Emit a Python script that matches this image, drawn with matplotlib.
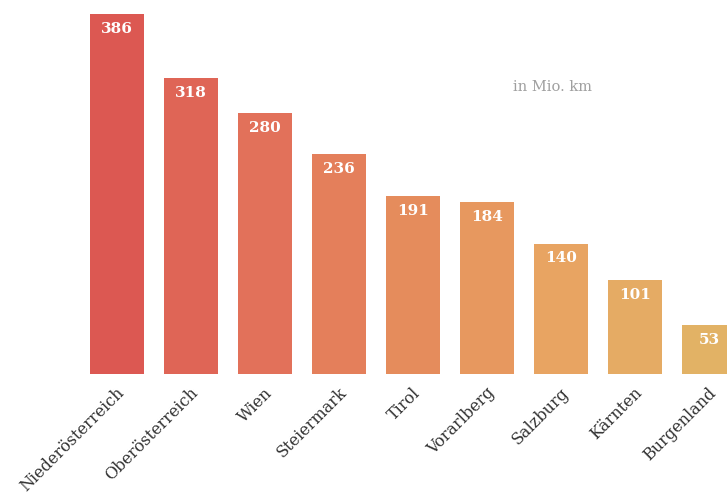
import matplotlib
matplotlib.use("Agg")
import matplotlib.pyplot as plt
import matplotlib.transforms as mtransforms
from matplotlib.colors import LinearSegmentedColormap
import numpy as np

# Fahrleistung nach Bundesland, in Mio. km
regions = ["Niederösterreich", "Oberösterreich", "Wien", "Steiermark", "Tirol",
           "Vorarlberg", "Salzburg", "Kärnten", "Burgenland"]
values = [386, 318, 280, 236, 191, 184, 140, 101, 53]

# red to ochre gradient across the bars
cmap = LinearSegmentedColormap.from_list(
    "rot_gelb", ["#dc5852", "#e2715a", "#e58c5c", "#e8a462", "#e2b265"])
colors = [cmap(t) for t in np.linspace(0, 1, len(values))]

fig = plt.figure(figsize=(7.27, 5.02), dpi=100)
ax = fig.add_axes([0, 0.253, 1, 0.7427])

x = np.arange(len(values))
ax.bar(x, values, width=0.72, color=colors, edgecolor="none")

for xi, v in zip(x, values):
    ax.text(xi, v - 15, str(v), ha="center", va="center", color="white",
            fontsize=11, fontweight="bold", family="DejaVu Serif")

ax.set_xlim(-1.581, 8.243)
ax.set_ylim(0, 400)
ax.set_xticks(x)
ax.set_xticklabels(regions, rotation=45, ha="right", va="center",
                   rotation_mode="anchor", family="DejaVu Serif",
                   fontsize=11.5, color="#333333")
ax.tick_params(axis="x", length=0, pad=11)
ax.tick_params(axis="y", left=False, labelleft=False)
# nudge the slanted names a little to the right
shift = mtransforms.ScaledTranslation(5 / 100, 0, fig.dpi_scale_trans)
for lbl in ax.get_xticklabels():
    lbl.set_transform(lbl.get_transform() + shift)
for s in ax.spines.values():
    s.set_visible(False)

fig.text(0.706, 0.826, "in Mio. km", ha="left", va="center",
         family="DejaVu Serif", fontsize=10.5, color="#a0a0a0")

fig.savefig("out.png", dpi=100)
